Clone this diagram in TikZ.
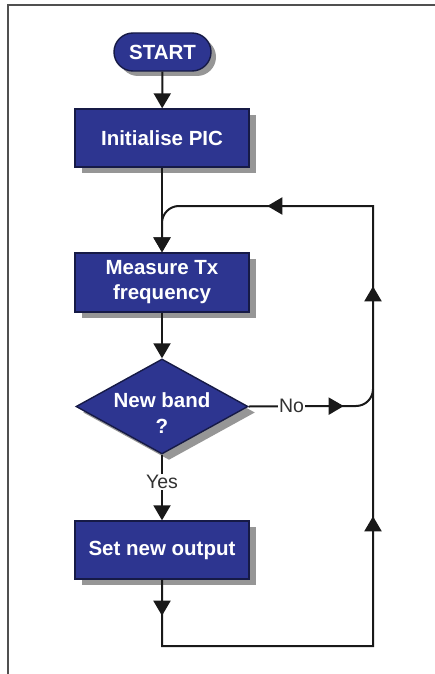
\documentclass[tikz,border=0pt]{standalone}
\usepackage{fontspec}
\setmainfont{Liberation Sans}
\usetikzlibrary{arrows.meta,shapes.geometric,shapes.misc,shadows,decorations.markings}

\definecolor{boxblue}{RGB}{45,53,144}
\definecolor{boxedge}{RGB}{22,26,70}
\definecolor{shadowgray}{RGB}{150,150,150}
\definecolor{linecol}{RGB}{25,25,25}
\definecolor{framecol}{RGB}{80,80,80}
\definecolor{labelcol}{RGB}{50,50,50}

\tikzset{
  x=1pt, y=1pt,
  flowtip/.tip={Triangle[width=17pt,length=15pt]},
  blockshadow/.style={drop shadow={shadow xshift=7pt, shadow yshift=-6pt, fill=shadowgray, opacity=1}},
  procbox/.style={rectangle, draw=boxedge, line width=1.4pt, fill=boxblue, blockshadow,
    minimum width=174pt, minimum height=58pt, inner sep=0pt,
    text=white, font=\bfseries\fontsize{20.5}{25}\selectfont, align=center},
  terminal/.style={rounded rectangle, draw=boxedge, line width=1.4pt, fill=boxblue,
    drop shadow={shadow xshift=5pt, shadow yshift=-5pt, fill=shadowgray, opacity=1},
    minimum width=97pt, minimum height=38pt, inner sep=0pt,
    text=white, font=\bfseries\fontsize{20.5}{24}\selectfont},
  decision/.style={diamond, draw=boxedge, line width=1.4pt, fill=boxblue, blockshadow,
    minimum width=172pt, minimum height=95pt, inner sep=0pt},
  decisiontext/.style={text=white, font=\bfseries\fontsize{20.5}{26}\selectfont, align=center},
  conn/.style={draw=linecol, line width=2pt},
  edgelabel/.style={fill=white, inner sep=1pt, text=labelcol, font=\fontsize{19.5}{22}\selectfont},
}

\begin{document}
\begin{tikzpicture}
  % page extent and outer frame
  \useasboundingbox (0,0) rectangle (435,-674);
  \fill[white] (0,0) rectangle (435,-674);
  \draw[framecol, line width=1.8pt] (8,-674) -- (8,-5) -- (435,-5);

  % blocks
  \node[terminal] (start) at (162.5,-52) {START};
  \node[procbox] (init) at (162,-138) {Initialise PIC};
  \node[procbox, minimum height=59pt] (measure) at (162,-282.5) {Measure Tx\\frequency};
  \node[decision] (band) at (162,-406.5) {};
  \node[decisiontext] (bandtext) at (162,-413) {New band\\?};
  \node[procbox] (setout) at (162,-550) {Set new output};

  % loop corners
  \coordinate (loopbl) at (162,-646);
  \coordinate (loopbr) at (373,-646);
  \coordinate (looptr) at (373,-206);
  \coordinate (noend) at (356,-406);

  % main flow
  \draw[conn, -{flowtip}] (start) -- (init);
  \draw[conn, -{flowtip}] (init) -- (measure);
  \draw[conn, -{flowtip}] (measure) -- (band);
  \draw[conn, -{flowtip}] (band.south) -- node[edgelabel, pos=0.42] {Yes} (setout.north);

  % "No" branch merging into the return line
  \draw[conn, decoration={markings, mark=at position 95pt with {\arrow{flowtip}}}, postaction={decorate}]
    (band.east) -- node[edgelabel, pos=0.40] {No} (noend)
    arc[start angle=-90, end angle=0, radius=17];

  % return loop back to the measurement step
  \draw[conn, -{flowtip},
    decoration={markings,
      mark=at position 36pt with {\arrow{flowtip}},
      mark=at position 407pt with {\arrow{flowtip}},
      mark=at position 637pt with {\arrow{flowtip}},
      mark=at position 823pt with {\arrow{flowtip}}},
    postaction={decorate}]
    (setout.south) -- (loopbl) -- (loopbr) -- (looptr) -- (179,-206)
    arc[start angle=90, end angle=180, radius=17] -- (measure.north);
\end{tikzpicture}
\end{document}
